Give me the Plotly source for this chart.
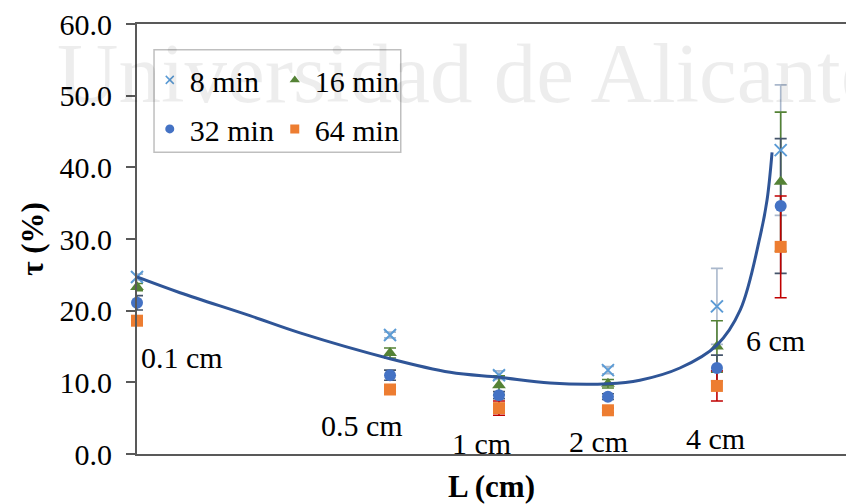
import numpy as np
import plotly.graph_objects as go

# ---------------- data ----------------
lengths = [0.1, 0.5, 1, 2, 4, 6]          # L (cm)
length_labels = ["0.1 cm", "0.5 cm", "1 cm", "2 cm", "4 cm", "6 cm"]
label_tau = [13.4, 4.0, 1.5, 1.8, 2.1, 15.9]   # vertical placement of the text labels (τ units)

tau_8 = [24.7, 16.6, 11.0, 11.7, 20.6, 42.4]
err_8 = [0.4, 0.4, 0.6, 0.5, 5.3, 9.1]
tau_16 = [23.3, 14.1, 9.6, 9.8, 15.0, 38.0]
err_16 = [0.5, 0.7, 1.3, 0.6, 3.6, 9.7]
tau_32 = [21.1, 11.0, 8.2, 8.0, 12.0, 34.6]
err_32 = [1.0, 0.7, 0.5, 0.4, 1.8, 9.4]
tau_64 = [18.6, 9.0, 6.4, 6.1, 9.5, 28.9]
err_64 = [0.3, 0.3, 1.0, 0.3, 2.1, 7.1]

# trend line
trend_L = [0.1, 0.1315, 0.205, 0.282, 0.5, 0.733, 1.0, 1.384, 2.0, 2.45, 3.16, 4.0, 4.64, 5.26, 5.50, 5.68]
trend_tau = [24.7, 22.5, 19.3, 16.9, 13.3, 11.4, 10.7, 9.9, 9.8, 10.3, 12.0, 15.2, 20.1, 30.3, 35.4, 42.1]

series = [
    ("8 min", tau_8, err_8, "x-thin-open", "#5B9BD5", "#AAB8CC", 1),
    ("16 min", tau_16, err_16, "triangle-up", "#548235", "#548235", 1),
    ("32 min", tau_32, err_32, "circle", "#4472C4", "#44546A", 2),
    ("64 min", tau_64, err_64, "square", "#ED7D31", "#C00000", 2),
]

FONT = "Liberation Serif"
FS = 30
fig = go.Figure()

# error bars first (under everything)
for name, tau, err, sym, col, ecol, lg in series:
    fig.add_trace(go.Scatter(
        x=lengths, y=tau, mode="markers", showlegend=False, hoverinfo="skip",
        marker=dict(size=10, opacity=0),
        error_y=dict(type="data", array=err, visible=True, color=ecol, thickness=1.6, width=6),
        cliponaxis=False,
    ))

# markers
for name, tau, err, sym, col, ecol, lg in series:
    if sym == "x-thin-open":
        mk = dict(symbol=sym, size=12, color=col, line=dict(color=col, width=2))
    else:
        mk = dict(symbol=sym, size=12, color=col, line=dict(width=0))
    fig.add_trace(go.Scatter(x=lengths, y=tau, mode="markers", marker=mk,
                             showlegend=False, cliponaxis=False))

# trend line
fig.add_trace(go.Scatter(x=trend_L, y=trend_tau, mode="lines", showlegend=False,
                         line=dict(color="#2F5597", width=3, shape="spline", smoothing=1.0)))

# legend-only traces
for name, tau, err, sym, col, ecol, lg in series:
    if sym == "x-thin-open":
        mk = dict(symbol=sym, size=8, color=col, line=dict(color=col, width=1.5))
    else:
        mk = dict(symbol=sym, size=9, color=col, line=dict(width=0))
    fig.add_trace(go.Scatter(x=[None], y=[None], mode="markers", name=name, marker=mk,
                             legend="legend" if lg == 1 else "legend2"))

# text labels next to each cluster
label_xshift = [45, -28, -17, -9, -1, -5]
for L, txt, ty, xs in zip(lengths, length_labels, label_tau, label_xshift):
    fig.add_annotation(x=np.log10(L), y=ty, xref="x", yref="y", text=txt, showarrow=False,
                       xshift=xs, font=dict(family=FONT, size=FS, color="black"))

# watermark
fig.add_annotation(x=-0.115, y=0.885, xref="paper", yref="paper", xanchor="left", yanchor="middle",
                   text="Universidad de Alicante", showarrow=False,
                   font=dict(family=FONT, size=85, color="rgba(0,0,0,0.07)"))

# legend frame
fig.add_shape(type="rect", xref="paper", yref="paper", x0=0.024, x1=0.372, y0=0.702, y1=0.940,
              line=dict(color="#BFBFBF", width=1.5), fillcolor="rgba(0,0,0,0)", layer="above")

legend_common = dict(orientation="h", xanchor="left", yanchor="middle", bgcolor="rgba(0,0,0,0)",
                     borderwidth=0, font=dict(family=FONT, size=FS, color="black"),
                     itemwidth=30, entrywidth=80, entrywidthmode="pixels")

fig.update_layout(
    width=846, height=504,
    margin=dict(l=137, r=0, t=24, b=50),
    paper_bgcolor="white", plot_bgcolor="white",
    font=dict(family=FONT, size=FS, color="black"),
    legend=dict(x=0.018, y=0.870, **legend_common),
    legend2=dict(x=0.018, y=0.756, **legend_common),
    xaxis=dict(type="log", range=[-1, 0.9586], showline=True, mirror=True, linecolor="#595959",
               linewidth=2, ticks="", showticklabels=False, showgrid=False, zeroline=False,
               title=dict(text="<b>L (cm)</b>", font=dict(family=FONT, size=31, color="black"), standoff=22)),
    yaxis=dict(range=[0, 60], dtick=10, tickformat=".1f", ticks="outside", ticklen=9, tickwidth=2,
               tickcolor="#595959", showline=True, linewidth=2, linecolor="#595959",
               ticklabelstandoff=8,
               showgrid=False, zeroline=False, tickfont=dict(family=FONT, size=FS, color="black"),
               title=dict(text="<b>τ (%)</b>", font=dict(family=FONT, size=31, color="black"), standoff=7)),
)

fig.write_html("out.html")
